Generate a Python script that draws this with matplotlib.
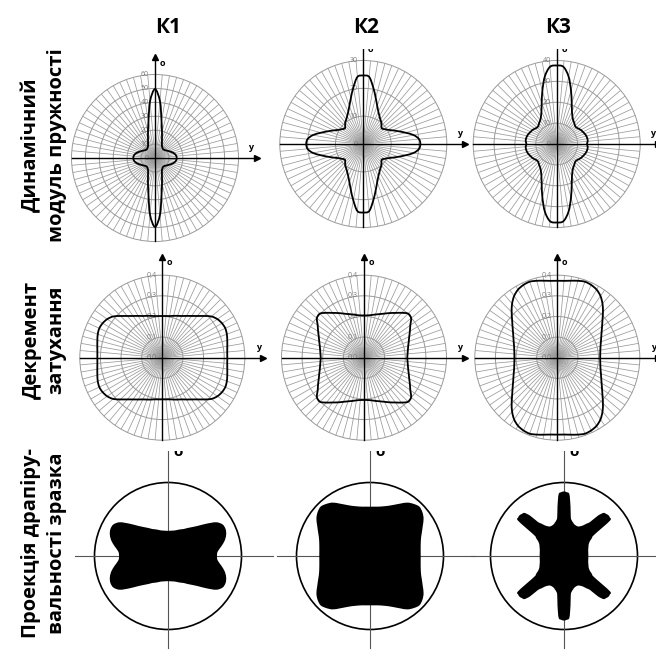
import numpy as np
import matplotlib
matplotlib.use("Agg")
import matplotlib.pyplot as plt
from matplotlib.collections import LineCollection
from matplotlib.patches import Circle, PathPatch
from matplotlib.path import Path

plt.rcParams['font.family'] = ['Open Sans', 'DejaVu Sans']

W, H = 656, 660

# angle measured clockwise from the "о" axis, one quadrant (the diagrams are symmetric)
angles = np.arange(0, 95, 5)
angles_fine = np.arange(0, 92.5, 2.5)

# Динамічний модуль пружності
modulus_k1 = [49.5, 41.0, 27.0, 19.4, 14.7, 11.8, 10.0, 9.2, 8.7, 8.6,
              8.9, 9.5, 10.4, 11.4, 12.6, 13.8, 14.8, 15.4, 15.6]
modulus_k2 = [24.6, 24.2, 20.6, 17.2, 14.6, 12.8, 11.6, 10.7, 10.1, 9.2,
              8.7, 9.3, 10.2, 11.6, 13.4, 15.7, 18.4, 20.1, 20.5]
modulus_k3 = [37.6, 37.1, 32.8, 26.5, 21.0, 17.3, 15.1, 13.8, 13.1, 12.4,
              12.3, 12.8, 13.4, 13.8, 14.3, 14.7, 14.9, 14.9, 14.5]
modulus_max = [60, 30, 40]

# Декремент затухання
decrement_k1 = [0.202, 0.203, 0.205, 0.210, 0.216, 0.223, 0.234, 0.247, 0.264, 0.286,
                0.311, 0.326, 0.334, 0.337, 0.333, 0.326, 0.320, 0.316, 0.315]
decrement_k2 = [0.205, 0.206, 0.210, 0.217, 0.225, 0.236, 0.250, 0.265, 0.284, 0.302,
                0.298, 0.274, 0.257, 0.242, 0.231, 0.222, 0.216, 0.212, 0.210]
decrement_k3 = [0.373, 0.374, 0.379, 0.386, 0.392, 0.389, 0.381, 0.365, 0.341, 0.313,
                0.286, 0.265, 0.248, 0.235, 0.225, 0.217, 0.212, 0.209, 0.208]
decrement_max = 0.4

# проекція драпірування, радіус відносно радіуса зразка
drape_k1 = [0.342, 0.345, 0.351, 0.360, 0.378, 0.400, 0.424, 0.465, 0.514, 0.582,
            0.684, 0.800, 0.858, 0.865, 0.842, 0.797, 0.734, 0.678, 0.666]
drape_k2 = [0.671, 0.674, 0.682, 0.700, 0.727, 0.768, 0.823, 0.887, 0.925, 0.950,
            0.930, 0.890, 0.830, 0.780, 0.740, 0.715, 0.700, 0.692, 0.690]
# К3 read every 2.5 degrees (narrow arms)
drape_k3 = [0.878, 0.869, 0.842, 0.678, 0.533, 0.493, 0.473, 0.456, 0.448, 0.444,
            0.444, 0.454, 0.471, 0.498, 0.539, 0.584, 0.714, 0.795, 0.810, 0.820,
            0.814, 0.786, 0.498, 0.449, 0.408, 0.386, 0.370, 0.361, 0.354, 0.347,
            0.341, 0.337, 0.335, 0.333, 0.332, 0.331, 0.331]

col_labels = ['К1', 'К2', 'К3']
row_labels = ['Динамічний\nмодуль пружності', 'Декремент\nзатухання',
              'Проекція драпіру-\nвальності зразка']

fig = plt.figure(figsize=(W / 100, H / 100), dpi=100)


def full_curve(values, q=angles):
    q = np.asarray(q, dtype=float)
    r = np.asarray(values, dtype=float)
    th = np.concatenate([q, 180 - q[::-1][1:], 180 + q[1:], 360 - q[::-1][1:-1]])
    rr = np.concatenate([r, r[::-1][1:], r[1:], r[::-1][1:-1]])
    t = np.radians(th)
    return rr * np.sin(t), rr * np.cos(t)


def smooth_path(x, y):
    # closed smooth curve through the points (Bezier segments, like a "smoothed line")
    p = np.column_stack([x, y])
    n = len(p)
    verts = [p[0]]
    codes = [Path.MOVETO]
    for i in range(n):
        p0, p1 = p[i - 1], p[i]
        p2, p3 = p[(i + 1) % n], p[(i + 2) % n]
        verts += [p1 + (p2 - p0) / 6, p2 - (p3 - p1) / 6, p2]
        codes += [Path.CURVE4] * 3
    verts.append(p[0])
    codes.append(Path.CLOSEPOLY)
    return Path(verts, codes)


def panel(cx, cy, ppu, top=None, half=110):
    x0, x1 = cx - half, cx + half
    y0 = cy - half if top is None else top
    y1 = cy + half
    ax = fig.add_axes([x0 / W, 1 - y1 / H, (x1 - x0) / W, (y1 - y0) / H])
    ax.set_xlim((x0 - cx) / ppu, (x1 - cx) / ppu)
    ax.set_ylim((cy - y1) / ppu, (cy - y0) / ppu)
    ax.set_axis_off()
    return ax


def polar_grid(ax, rmax, step, ppu, fmt):
    grey = '#9a9a9a'
    spokes = []
    for a in np.radians(np.arange(0, 360, 5)):
        spokes.append([(0, 0), (rmax * np.sin(a), rmax * np.cos(a))])
    ax.add_collection(LineCollection(spokes, colors=grey, linewidths=0.55, zorder=1))
    n = int(round(rmax / step))
    for k in range(1, n + 1):
        ax.add_patch(Circle((0, 0), k * step, fill=False, ec=grey, lw=0.7, zorder=1))
    for k in range(0, n + 1):
        ax.text(-6 / ppu, k * step, fmt(k * step), ha='right', va='center',
                fontsize=5, color='#7a7a7a', zorder=2)
    # осі зі стрілками
    ext = rmax + 18 / ppu
    ax.plot([-rmax, ext], [0, 0], color='black', lw=1.0, zorder=2)
    ax.plot([0, 0], [-rmax, ext], color='black', lw=1.0, zorder=2)
    ax.plot([ext], [0], marker='>', ms=4.5, color='black')
    ax.plot([0], [ext], marker='^', ms=4.5, color='black')
    ax.text(7.5 / ppu, 95 / ppu, 'о', fontsize=6.5, fontweight='bold',
            ha='center', va='center', clip_on=True)
    ax.text(96 / ppu, 10 / ppu, 'у', fontsize=6.5, fontweight='bold',
            ha='center', va='center', clip_on=True)


# row 1 - dynamic modulus
row1 = [(155, 158, None), (363.3, 144, 48.5), (556.7, 144, 48.5)]
for (cx, cy, top), vals, rmax in zip(row1, [modulus_k1, modulus_k2, modulus_k3], modulus_max):
    ppu = 83.5 / rmax
    ax = panel(cx, cy, ppu, top)
    polar_grid(ax, rmax, 10, ppu, lambda v: f'{v:.0f}')
    x, y = full_curve(vals)
    ax.add_patch(PathPatch(smooth_path(x, y), fill=False, ec='black', lw=1.3, zorder=3))

# row 2 - damping decrement
row2 = [(162.3, 357.7), (364, 357.7), (557.3, 357.7)]
for (cx, cy), vals in zip(row2, [decrement_k1, decrement_k2, decrement_k3]):
    ppu = 82.5 / decrement_max
    ax = panel(cx, cy, ppu)
    polar_grid(ax, decrement_max, 0.1, ppu, lambda v: f'{v:.1f}'.replace('.', ','))
    x, y = full_curve(vals)
    ax.add_patch(PathPatch(smooth_path(x, y), fill=False, ec='black', lw=1.3, zorder=3))

# row 3 - drape projection
row3 = [(168, 556), (370, 556), (564, 556)]
for (cx, cy), vals, q in zip(row3, [drape_k1, drape_k2, drape_k3], [angles, angles, angles_fine]):
    ppu = 73.5
    ax = panel(cx, cy, ppu, top=451)
    ax.plot([-93 / ppu, 105 / ppu], [0, 0], color='#555555', lw=0.8)
    ax.plot([0, 0], [-92 / ppu, 120 / ppu], color='#555555', lw=0.8)
    ax.add_patch(Circle((0, 0), 1.0, fill=False, ec='black', lw=1.2))
    x, y = full_curve(vals, q)
    ax.add_patch(PathPatch(smooth_path(x, y), fc='black', ec='none', zorder=3))
    ax.text(10 / ppu, 104 / ppu, 'о', fontsize=11, fontweight='bold',
            ha='center', va='center', clip_on=True)

for xpx, lab in zip([168, 366, 558], col_labels):
    fig.text(xpx / W, 1 - 27.5 / H, lab, ha='center', va='center',
             fontsize=15, fontweight='bold')

for ypx, lab in zip([145, 340, 543], row_labels):
    fig.text(44 / W, 1 - ypx / H, lab, ha='center', va='center', rotation=90,
             fontsize=14.5, fontweight='bold', linespacing=1.35, multialignment='center')

fig.savefig('out.png', dpi=100)
